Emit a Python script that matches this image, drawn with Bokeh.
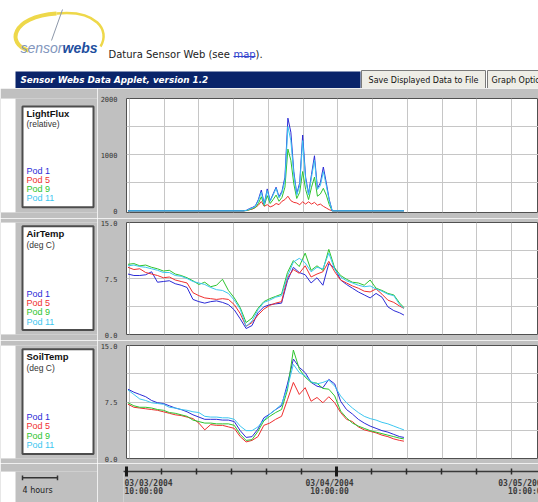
from bokeh.plotting import figure
from bokeh.layouts import column, row
from bokeh.models import Range1d, FixedTicker, PrintfTickFormatter, ColumnDataSource, LinearAxis
from bokeh.core.properties import value
from bokeh.embed import file_html
from bokeh.resources import INLINE

# ---------------- data (hours after 03/03/2004 10:00:00) ----------------
hours = [-0.17, 0.51, 1.19, 1.87, 2.55, 3.23, 3.91, 4.59, 5.27, 5.95, 6.63, 7.31,
         7.99, 8.67, 9.35, 10.03, 10.71, 11.39, 12.07, 12.75, 13.43, 14.11, 14.79, 15.47,
         16.15, 16.83, 17.51, 18.19, 18.87, 19.55, 20.23, 20.91, 21.59, 22.27, 22.95, 23.63,
         24.31, 24.99, 25.67, 26.35, 27.03, 27.71, 28.39, 29.07, 29.75, 30.43, 31.11, 31.6]

air_pod1 = [8.1, 7.9, 7.9, 8.0, 8.4, 7.0, 7.1, 7.2, 6.8, 6.6, 6.3, 4.7, 4.4, 4.2, 4.4, 4.5,
            4.3, 4.0, 3.3, 2.1, 0.8, 1.2, 2.9, 3.7, 4.0, 4.1, 4.2, 7.2, 9.0, 8.3, 8.0, 6.9,
            7.6, 6.6, 9.5, 8.9, 7.3, 6.7, 6.2, 5.7, 5.3, 4.9, 5.5, 5.0, 3.7, 3.2, 2.9, 2.6]
air_pod5 = [9.0, 8.7, 8.8, 8.3, 8.1, 7.9, 7.6, 7.7, 7.3, 7.1, 6.9, 5.6, 5.2, 4.9, 4.8, 4.7,
            4.8, 4.7, 4.0, 2.8, 1.1, 1.6, 2.6, 3.4, 3.9, 4.2, 4.4, 7.6, 8.7, 8.2, 9.2, 7.7,
            8.1, 8.4, 9.8, 8.4, 7.3, 6.9, 6.5, 6.2, 5.8, 5.7, 6.1, 5.4, 4.6, 4.3, 3.8, 3.5]
air_pod9 = [9.4, 9.5, 9.2, 9.3, 9.0, 8.8, 8.5, 8.6, 8.1, 7.9, 7.6, 7.2, 6.7, 7.0, 6.4, 6.6,
            7.4, 5.9, 4.9, 3.6, 1.6, 2.2, 3.5, 4.4, 4.8, 5.1, 5.4, 8.3, 9.9, 9.1, 10.9, 8.6,
            9.2, 8.6, 11.4, 8.9, 7.9, 7.4, 7.0, 6.9, 6.6, 7.3, 6.2, 5.9, 5.5, 5.3, 4.2, 3.6]
air_pod11 = [9.2, 9.3, 9.1, 9.0, 8.8, 8.6, 8.3, 8.3, 7.9, 7.8, 7.5, 7.1, 6.9, 6.7, 6.3, 6.0,
             5.9, 5.5, 4.6, 3.4, 1.1, 1.8, 3.3, 4.3, 4.6, 5.0, 5.2, 7.8, 9.7, 10.2, 9.6, 8.4,
             9.0, 8.8, 10.9, 8.7, 7.7, 7.2, 6.9, 6.6, 6.4, 6.5, 6.1, 5.8, 5.4, 5.2, 4.0, 3.5]

soil_pod1 = [9.2, 8.8, 8.5, 8.2, 7.7, 7.4, 7.3, 7.0, 6.7, 6.5, 6.2, 5.8, 5.5, 5.2, 5.2, 5.2,
             5.1, 5.1, 4.9, 3.7, 2.8, 2.9, 3.9, 5.4, 5.9, 6.5, 7.0, 9.9, 13.2, 12.1, 11.4, 10.1,
             9.6, 9.4, 10.5, 9.9, 7.6, 6.5, 5.9, 5.2, 4.7, 4.3, 4.0, 3.7, 3.5, 3.2, 2.9, 2.8]
soil_pod5 = [7.2, 6.8, 6.7, 6.6, 6.5, 6.4, 6.2, 6.0, 5.8, 5.7, 5.5, 5.3, 4.7, 3.8, 4.5, 4.4,
             4.4, 4.2, 4.0, 2.9, 2.2, 2.4, 2.9, 4.4, 4.7, 5.2, 5.6, 7.8, 10.1, 8.5, 9.4, 7.6,
             8.1, 7.4, 8.2, 7.4, 6.1, 5.2, 4.9, 4.2, 3.8, 3.6, 3.4, 3.1, 2.9, 2.6, 2.4, 2.3]
soil_pod9 = [7.4, 7.0, 6.8, 6.8, 6.7, 6.5, 6.4, 6.1, 6.0, 5.8, 5.6, 5.1, 4.9, 4.7, 4.7, 4.6,
             4.6, 4.6, 4.4, 3.2, 2.4, 2.5, 3.6, 5.0, 5.6, 6.1, 6.5, 9.1, 14.4, 11.9, 10.8, 10.1,
             10.0, 9.3, 9.2, 8.3, 6.3, 5.4, 4.7, 4.3, 4.0, 3.7, 3.5, 3.3, 3.1, 2.9, 2.7, 2.6]
soil_pod11 = [9.1, 8.5, 7.9, 7.7, 7.4, 7.3, 7.2, 6.8, 6.7, 6.5, 6.4, 6.2, 6.1, 5.6, 5.5, 5.5,
              5.4, 5.4, 5.2, 4.3, 3.7, 3.7, 4.2, 5.1, 5.9, 6.5, 7.2, 9.4, 12.5, 11.4, 11.0, 10.2,
              9.9, 10.1, 10.4, 9.6, 8.3, 7.4, 6.7, 6.1, 5.6, 5.3, 5.1, 4.8, 4.6, 4.3, 4.0, 3.8]

light_hours = [-0.17, 13.14, 13.48, 13.82, 14.16, 14.50, 14.84, 15.18, 15.52, 15.86, 16.20,
               16.54, 16.88, 17.22, 17.56, 17.90, 18.24, 18.58, 18.92, 19.26, 19.60, 19.94,
               20.28, 20.62, 20.96, 21.30, 21.64, 21.98, 22.32, 22.66, 23.00, 23.34, 31.6]
light_pod1 = [0, 0, 10, 40, 60, 90, 200, 370, 120, 390, 180, 300, 420, 250, 350, 600, 1650,
              1400, 700, 300, 500, 1350, 600, 300, 650, 980, 400, 500, 780, 500, 200, 0, 0]
light_pod5 = [0, 0, 5, 20, 30, 60, 100, 165, 80, 110, 70, 90, 130, 110, 170, 200, 260,
              180, 150, 140, 110, 160, 120, 160, 120, 150, 100, 120, 80, 50, 20, 0, 0]
light_pod9 = [0, 0, 5, 20, 40, 60, 130, 250, 90, 270, 130, 200, 280, 170, 240, 420, 1100,
              900, 480, 220, 330, 700, 380, 200, 420, 600, 260, 300, 400, 280, 110, 0, 0]
light_pod11 = [0, 0, 8, 30, 50, 80, 180, 330, 110, 360, 170, 280, 400, 230, 320, 550, 1500,
               1250, 650, 280, 450, 1250, 550, 280, 600, 900, 380, 450, 700, 450, 180, 0, 0]

pod_names = ["Pod 1", "Pod 5", "Pod 9", "Pod 11"]
major_hours = [0, 24, 48]
minor_hours = [4, 8, 12, 16, 20, 28, 32, 36, 40, 44]
date_labels = ["03/03/2004", "03/04/2004", "03/05/2004"]
time_labels = ["10:00:00", "10:00:00", "10:00:00"]
light_ticks = [0, 1000, 2000]
light_grid = [500, 1000, 1500]
temp_ticks = [0, 7.5, 15]
temp_grid = [3.75, 7.5, 11.25]

# ---------------- styling ----------------
GREY = "#c0c0c0"
POD_COLORS = ["#2b2bd6", "#ef2f2f", "#2ec42e", "#3cc6f0"]
GRID = "#c6c6c6"
W = 538
LEFT_W = 97
PLOT_W = W - LEFT_W
x_range = Range1d(-0.34, 47.09)


def bare(width, height, xr, yr, bg=GREY):
    p = figure(width=width, height=height, x_range=xr, y_range=yr,
               toolbar_location=None, output_backend="svg",
               x_axis_location=None, y_axis_location=None, min_border=0)
    p.grid.visible = False
    p.outline_line_color = None
    p.background_fill_color = bg
    p.border_fill_color = bg
    return p


def txt(p, x, y, s, size, color="#222222", font="DejaVu Sans", style="normal",
        align="left", baseline="middle"):
    p.text(x=[x], y=[y], text=[s], text_font=value(font), text_font_size=size,
           text_font_style=style, text_color=color, text_align=align,
           text_baseline=baseline)


# ---------------- header ----------------
hdr = bare(W, 88, Range1d(0, W), Range1d(88, 0), bg="white")
hdr.bezier(x0=[28], y0=[50], cx0=[6], cy0=[44], cx1=[10], cy1=[16], x1=[56], y1=[13],
           line_color="#eed84a", line_width=4)
hdr.bezier(x0=[56], y0=[13], cx0=[96], cy0=[9], cx1=[110], cy1=[30], x1=[100], y1=[46],
           line_color="#eed84a", line_width=2.5)
hdr.segment(x0=[62], y0=[9], x1=[51], y1=[40], line_color="#8d98aa", line_width=1)
txt(hdr, 20, 47, "sensor", "14px", color="#8296bd", font="Liberation Sans",
    style="italic", baseline="alphabetic")
txt(hdr, 62, 47, "webs", "14px", color="#1d4e9e", font="Liberation Sans",
    style="bold italic", baseline="alphabetic")
txt(hdr, 108, 54, "Datura Sensor Web (see ", "10px", color="#222222", baseline="alphabetic")
txt(hdr, 233, 54, "map", "10px", color="#3344cc", baseline="alphabetic")
hdr.segment(x0=[233], y0=[56], x1=[255], y1=[56], line_color="#3344cc", line_width=1)
txt(hdr, 255, 54, ").", "10px", color="#222222", baseline="alphabetic")
hdr.quad(left=[15], right=[360], top=[71], bottom=[88], fill_color="#0a246a", line_color=None)
txt(hdr, 20, 79.5, "Sensor Webs Data Applet, version 1.2", "8.8px", color="white",
    style="bold italic")
hdr.quad(left=[361, 487], right=[485, 560], top=[70, 70], bottom=[88, 88],
         fill_color="#eeede6", line_color="#7a7a7a", line_width=1)
txt(hdr, 423, 79.5, "Save Displayed Data to File", "8px", color="#111111", align="center")
txt(hdr, 491, 79.5, "Graph Options", "8px", color="#111111")


# ---------------- panels ----------------
def panel(row_top, row_bot, frame_top, frame_bot, box_top, box_bot, title, unit,
          xs, series, order, y_start, ymax, ticks, grid_ticks, fmt):
    h = row_bot - row_top
    lab = bare(LEFT_W, h, Range1d(0, LEFT_W), Range1d(row_bot, row_top))
    lab.quad(left=[0], right=[15], top=[row_top], bottom=[row_bot],
             fill_color="white", line_color=None)
    lab.quad(left=[22], right=[93], top=[box_top], bottom=[box_bot],
             fill_color="white", line_color="#4d4d4d", line_width=2)
    txt(lab, 26, box_top + 8, title, "9.5px", color="#111111", font="Liberation Sans",
        style="bold")
    txt(lab, 26, box_top + 20, unit, "8.5px", color="#333333", font="Liberation Sans")
    for i, (name, c) in enumerate(zip(pod_names, POD_COLORS)):
        txt(lab, 26, box_top + 74 + 10 * i, name, "9px", color=c, font="Liberation Sans")

    p = figure(width=PLOT_W, height=h, x_range=x_range, y_range=Range1d(y_start, ymax),
               toolbar_location=None, output_backend="svg", x_axis_location=None,
               min_border_left=26, min_border_right=0,
               min_border_top=frame_top - row_top, min_border_bottom=row_bot - frame_bot)
    p.background_fill_color = "white"
    p.border_fill_color = GREY
    p.outline_line_color = "#505050"
    p.outline_line_width = 1
    p.yaxis.ticker = FixedTicker(ticks=ticks)
    p.yaxis.formatter = PrintfTickFormatter(format=fmt)
    p.yaxis.axis_line_color = None
    p.yaxis.major_tick_line_color = None
    p.yaxis.minor_tick_line_color = None
    p.yaxis.major_label_standoff = 3
    p.yaxis.major_label_text_font = "DejaVu Sans Mono"
    p.yaxis.major_label_text_font_size = "7px"
    p.yaxis.major_label_text_color = "#333333"
    p.xgrid.ticker = FixedTicker(ticks=major_hours + minor_hours)
    p.ygrid.ticker = FixedTicker(ticks=grid_ticks)
    p.grid.grid_line_color = GRID
    p.grid.grid_line_width = 1
    src = ColumnDataSource(dict(t=xs, **{f"s{i}": s for i, s in enumerate(series)}))
    for i in order:
        p.line("t", f"s{i}", source=src, line_color=POD_COLORS[i], line_width=1)
    return row(lab, p, spacing=0)


row1 = panel(88, 218, 98, 212, 97, 212, "LightFlux", "(relative)", light_hours,
             [light_pod1, light_pod5, light_pod9, light_pod11], [1, 2, 0, 3],
             -30, 2000, light_ticks, light_grid, "%d")
row2 = panel(218, 340, 222, 334, 222, 335, "AirTemp", "(deg C)", hours,
             [air_pod1, air_pod5, air_pod9, air_pod11], [0, 1, 2, 3],
             0, 15, temp_ticks, temp_grid, "%.1f")
row3 = panel(340, 463, 345, 458, 344, 458, "SoilTemp", "(deg C)", hours,
             [soil_pod1, soil_pod5, soil_pod9, soil_pod11], [0, 1, 2, 3],
             0, 15, temp_ticks, temp_grid, "%.1f")

# ---------------- bottom time axis ----------------
lab4 = bare(LEFT_W, 39, Range1d(0, LEFT_W), Range1d(502, 463))
lab4.quad(left=[0], right=[15], top=[463], bottom=[502], fill_color="white", line_color=None)
lab4.segment(x0=[22], y0=[471], x1=[57], y1=[471], line_color="#333333", line_width=1.5)
lab4.segment(x0=[22, 57], y0=[468, 468], x1=[22, 57], y1=[474, 474],
             line_color="#333333", line_width=1.5)
txt(lab4, 22, 487, "4 hours", "8px", color="#222222")

axf = figure(width=PLOT_W, height=39, x_range=x_range, y_range=Range1d(502, 471),
             toolbar_location=None, output_backend="svg", x_axis_location=None,
             y_axis_location=None, min_border_left=26, min_border_right=0,
             min_border_top=8, min_border_bottom=0)
axf.grid.visible = False
axf.outline_line_color = None
axf.background_fill_color = GREY
axf.border_fill_color = GREY
tax = LinearAxis(ticker=FixedTicker(ticks=major_hours, minor_ticks=minor_hours))
tax.axis_line_color = "#3a3a3a"
tax.axis_line_width = 1.5
tax.major_tick_in = 5
tax.major_tick_out = 5
tax.major_tick_line_width = 3
tax.major_tick_line_color = "#1a1a1a"
tax.minor_tick_in = 3
tax.minor_tick_out = 3
tax.minor_tick_line_width = 1.5
tax.minor_tick_line_color = "#2a2a2a"
tax.major_label_text_font_size = "1px"
tax.major_label_text_alpha = 0
tax.major_label_standoff = 0
axf.add_layout(tax, "above")
aligns = ["left", "center", "right"]
offsets = [-2, -7, 0]
for i in range(3):
    s = ColumnDataSource(dict(x=[major_hours[i]], d=[date_labels[i]], t=[time_labels[i]]))
    for col, yy in (("d", 483), ("t", 491)):
        axf.text(x="x", y=yy, text=col, source=s, text_font=value("DejaVu Sans Mono"),
                 text_font_size="8px", text_font_style="bold", text_color="#3a3a3a",
                 text_align=aligns[i], text_baseline="middle", x_offset=offsets[i])

row4 = row(lab4, axf, spacing=0)

layout = column(hdr, row1, row2, row3, row4, spacing=0)
open("out.html", "w").write(file_html(layout, INLINE))
